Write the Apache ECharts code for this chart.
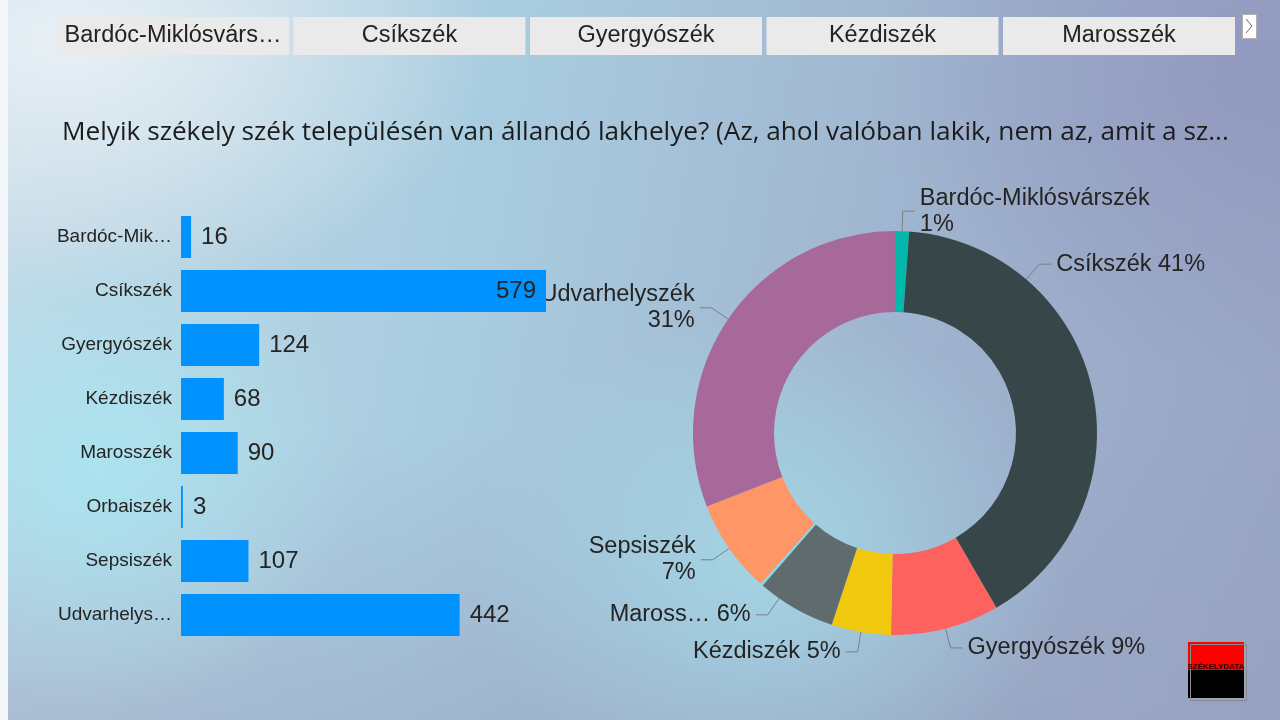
<!DOCTYPE html>
<html>
<head>
<meta charset="utf-8">
<script src="https://cdn.jsdelivr.net/npm/echarts@6/dist/echarts.min.js"></script>
<style>
html,body{margin:0;padding:0;background:#f4f7f9;}
#bg{position:absolute;left:8px;top:0;width:1272px;height:720px;
background:
 radial-gradient(ellipse 260px 240px at 90px 470px, rgba(170,228,240,0.95), rgba(170,228,240,0) 100%),
 radial-gradient(ellipse 420px 260px at 60px 40px, rgba(232,240,245,1), rgba(232,240,245,0) 100%),
 radial-gradient(ellipse 300px 250px at 760px 560px, rgba(165,222,235,0.8), rgba(165,222,235,0) 100%),
 radial-gradient(ellipse 380px 300px at 1250px 80px, rgba(145,152,190,0.9), rgba(145,152,190,0) 100%),
 linear-gradient(180deg, rgba(0,0,0,0) 60%, rgba(150,160,190,0.45) 100%),
 linear-gradient(100deg, #c3d9e6 0%, #a9cde0 35%, #a0b6d0 65%, #98a3c3 100%);}
#chart{position:absolute;left:0;top:0;width:1280px;height:720px;}
</style>
</head>
<body>
<div id="bg"></div>
<div id="chart"></div>
<script>
var categories = ['Bardóc-Miklósvárszék','Csíkszék','Gyergyószék','Kézdiszék','Marosszék','Orbaiszék','Sepsiszék','Udvarhelyszék'];
var values = [16, 579, 124, 68, 90, 3, 107, 442];
var sliceColors = ['#01B8AA','#374649','#FD625E','#F2C80F','#5F6B6D','#8AD4EB','#FE9666','#A66999'];
var titleText = 'Melyik székely szék településén van állandó lakhelye? (Az, ahol valóban lakik, nem az, amit a személyi igazolványában szerepel)';
var tabCount = 5;

var FONT = '"Liberation Sans", Arial, sans-serif';
var TXT = '#252423';
var chart = echarts.init(document.getElementById('chart'));
var maxVal = Math.max.apply(null, values);
var total = values.reduce(function (a, b) { return a + b; }, 0);

// exact text fitting with canvas measurement
var measureCtx = document.createElement('canvas').getContext('2d');
function fitText(text, width, font, ellipsis) {
  measureCtx.font = font;
  if (measureCtx.measureText(text).width <= width) return text;
  var s = text;
  while (s.length > 0 && measureCtx.measureText(s + ellipsis).width > width) s = s.slice(0, -1);
  return s.replace(/\s+$/, '') + ellipsis;
}

// pie label styling
var PIE_CX = 895, PIE_CY = 433, PIE_R0 = 121, PIE_R = 202;
var LINE1 = 20, LINE2 = 12, LABEL_GAP = 5;
var wrapNames = {'Bardóc-Miklósvárszék':1,'Udvarhelyszék':1,'Sepsiszék':1};
var truncNames = {'Marosszék':104};
var anchorAngleOverride = {'Csíkszék':40.5, 'Marosszék':215}; // degrees clockwise from top
var pieLabelFont = '23.5px ' + FONT;
var titleFont = '26.2px "Open Sans", sans-serif';
var tabFont = '23.5px ' + FONT;

// slice mid angles from data
var midAngles = [];
(function () {
  var acc = 0;
  for (var i = 0; i < values.length; i++) {
    var a0 = acc / total * 360; acc += values[i];
    var a1 = acc / total * 360;
    midAngles.push((a0 + a1) / 2);
  }
})();

var graphics = [];
// title
graphics.push({
  type:'text', x: 62, y: 133,
  style:{text: fitText(titleText, 1172, titleFont, '...'),
    font: titleFont, fill:'#1c1c1c', align:'left', verticalAlign:'middle'}, z:11
});
// slicer tabs
var tabX = 57, tabW = 232, tabStep = 236.5;
for (var i = 0; i < tabCount; i++) {
  graphics.push({
    type:'rect', left: tabX + i*tabStep, top: 17,
    shape:{width: tabW, height: 38}, style:{fill:'#eaeaea'}, z:10
  });
  graphics.push({
    type:'text', x: tabX + i*tabStep + tabW/2, y: 36,
    style:{text: fitText(categories[i], tabW - 12, tabFont, '…'),
      font: tabFont, fill:'#222', align:'center', verticalAlign:'middle'}, z:11
  });
}
// arrow
graphics.push({type:'rect', left:1242, top:14, shape:{width:14,height:24}, style:{fill:'#fff', stroke:'#b0b0b0', lineWidth:1}, z:10});
graphics.push({type:'polyline', shape:{points:[[1246,19],[1252,26],[1246,33]]}, style:{stroke:'#666', lineWidth:1, fill:null}, z:11});
// logo
graphics.push({type:'rect', left:1188, top:642, shape:{width:56,height:28}, style:{fill:'#ff0000'}, z:10});
graphics.push({type:'rect', left:1188, top:670, shape:{width:56,height:28}, style:{fill:'#000000'}, z:10});
graphics.push({type:'rect', left:1188, top:642, shape:{width:56,height:56}, style:{fill:null, stroke:'#8a8a8a', lineWidth:1}, z:11});
graphics.push({type:'text', x:1216, y:667, style:{text:'SZÉKELYDATA', font:'bold 8px ' + FONT, fill:'#200', align:'center', verticalAlign:'middle'}, z:12});

function pieLabelLayout(params) {
  var idx = params.dataIndex;
  var name = categories[idx];
  var ang = anchorAngleOverride[name] != null ? anchorAngleOverride[name] : midAngles[idx];
  var rad = ang * Math.PI / 180;
  var sx = Math.sin(rad), sy = -Math.cos(rad);
  var p0 = [PIE_CX + PIE_R * sx, PIE_CY + PIE_R * sy];
  var p1 = [PIE_CX + (PIE_R + LINE1) * sx, PIE_CY + (PIE_R + LINE1) * sy];
  var right = ang < 180;
  var p2 = [p1[0] + (right ? LINE2 : -LINE2), p1[1]];
  return {
    x: p2[0] + (right ? LABEL_GAP : -LABEL_GAP),
    y: p2[1],
    align: right ? 'left' : 'right',
    verticalAlign: 'middle',
    labelLinePoints: [p0, p1, p2]
  };
}

var option = {
  backgroundColor: 'transparent',
  animation: false,
  graphic: graphics,
  grid: {left: 181, top: 210, width: 365, height: 432},
  xAxis: {type: 'value', min: 0, max: maxVal, show: false},
  yAxis: {
    type: 'category', data: categories, inverse: true,
    axisLine: {show: false}, axisTick: {show: false}, splitLine: {show: false},
    axisLabel: {fontFamily: FONT, fontSize: 19, color: TXT, margin: 9, width: 120, overflow: 'truncate', ellipsis: '…'}
  },
  series: [
    {
      type: 'bar', z: 5, barWidth: 42,
      data: values.map(function (v) {
        return {value: v, label: {position: v === maxVal ? 'insideRight' : 'right'}};
      }),
      itemStyle: {color: '#0093FF'},
      label: {show: true, distance: 10, fontFamily: FONT, fontSize: 24, color: TXT}
    },
    {
      type: 'pie', z: 2, center: [PIE_CX, PIE_CY], radius: [PIE_R0, PIE_R], startAngle: 90, clockwise: true,
      minShowLabelAngle: 2,
      data: categories.map(function (c, i) { return {name: c, value: values[i], itemStyle: {color: sliceColors[i]}}; }),
      label: {
        show: true, fontFamily: FONT, fontSize: 23.5, color: TXT, lineHeight: 26, overflow: 'none',
        formatter: function (p) {
          var pct = Math.round(p.percent) + '%';
          var n = p.name;
          if (wrapNames[n]) return n + '\n' + pct;
          if (truncNames[n]) n = fitText(n, truncNames[n], pieLabelFont, '…');
          return n + ' ' + pct;
        }
      },
      labelLine: {show: true, length: LINE1, length2: LINE2, lineStyle: {color: '#7a7f85', width: 1}},
      labelLayout: pieLabelLayout,
      emphasis: {disabled: true}
    }
  ]
};
chart.setOption(option);
</script>
</body>
</html>
